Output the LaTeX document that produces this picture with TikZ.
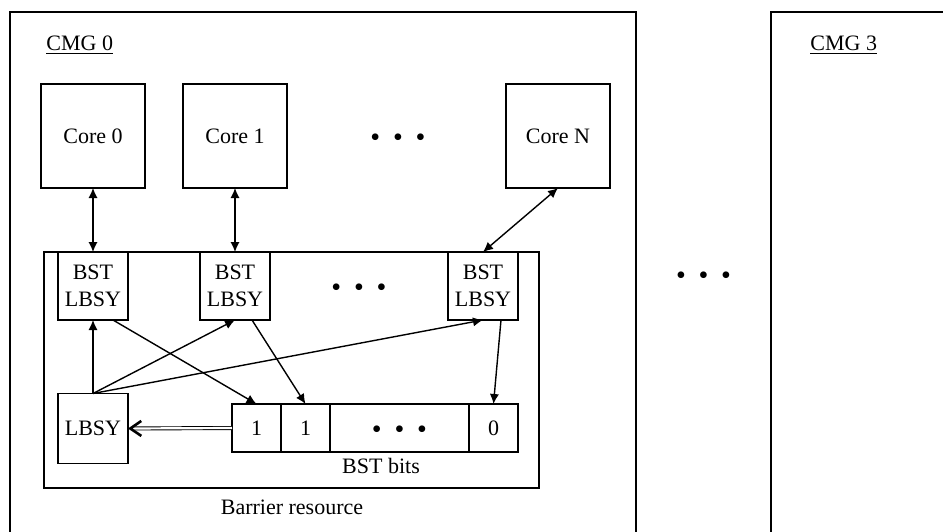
\documentclass[tikz,border=0pt]{standalone}
\usepackage{fontspec}
\setmainfont{Liberation Serif}
\usetikzlibrary{positioning, arrows.meta}
\tikzset{
  cmgframe/.style = {line width=0.8pt},
  cmgcore/.style  = {draw, line width=0.8pt, outer sep=0pt, inner sep=1pt,
                     minimum width=52pt, minimum height=52pt},
  cmgreg/.style   = {draw, line width=0.8pt, outer sep=0pt, inner sep=1pt,
                     minimum width=35pt, minimum height=34pt, align=center},
  cmgbit/.style   = {draw, line width=0.8pt, outer sep=0pt, inner sep=1pt,
                     minimum width=24.5pt, minimum height=24pt},
  cmgarrow/.style = {line width=0.7pt, -{Latex[length=5pt,width=4.6pt]}},
  cmgboth/.style  = {line width=0.7pt,
                     {Latex[length=5pt,width=4.6pt]}-{Latex[length=5pt,width=4.6pt]}},
  cmgdouble/.style = {double, line width=0.45pt, double distance=1.1pt,
                      -{Straight Barb[length=5.5pt,width=7.5pt,line width=1.3pt]}},
  cmglbl/.style   = {anchor=base, inner sep=0pt},
  cmgdotsnode/.style = {yshift=-2.3pt, inner sep=0pt,
                        font=\fontsize{14}{14}\selectfont}
}
\newcommand{\cmgdots}{\textbullet\hspace{6.4pt}\textbullet\hspace{6.4pt}\textbullet}

\begin{document}
\begin{tikzpicture}[x=0.5pt, y=-0.5pt, font=\fontsize{11}{13.5}\selectfont]
  \useasboundingbox (0,0) rectangle (943,531);
  \clip (0,0) rectangle (943,531);

  % two CMG frames, cut by the page edge
  \draw[cmgframe] (10,12) rectangle (636,600);
  \draw[cmgframe] (771,12) rectangle (1000,600);
  \node[cmglbl, anchor=base west] (cmg0lbl) at (46,50) {\underline{CMG 0}};
  \node[cmglbl, anchor=base west] (cmg3lbl) at (810,50) {\underline{CMG 3}};
  \node[cmgdotsnode] (cmgdots) at (703.5,274) {\cmgdots};

  % cores
  \node[cmgcore]                        (core0) at (93,136) {Core 0};
  \node[cmgcore, right=19pt of core0]   (core1) {Core 1};
  \node[cmgcore, right=109.5pt of core1] (coreN) {Core N};
  \node[cmgdotsnode] (coredots) at (398,136) {\cmgdots};

  % barrier resource
  \node[draw, cmgframe, outer sep=0pt, anchor=north west,
        minimum width=247.5pt, minimum height=118pt] (barrier) at (44,252) {};
  \node[cmglbl] (barrierlbl) at (292,514) {Barrier resource};

  \node[cmgreg, below=32pt of core0] (bst0) {BST\\LBSY};
  \node[cmgreg, below=32pt of core1] (bst1) {BST\\LBSY};
  \node[cmgreg, anchor=north]        (bstN) at (483,252) {BST\\LBSY};
  \node[cmgdotsnode] (bstdots) at (359,286) {\cmgdots};

  \node[cmgreg, minimum height=35pt] (lbsy) at (93,428.5) {LBSY};

  \node[cmgbit]                   (bit1) at (256.5,428) {1};
  \node[cmgbit, right=0pt of bit1] (bit2) {1};
  \node[cmgbit, right=0pt of bit2, minimum width=69.5pt] (bitdots) {};
  \node[cmgbit, right=0pt of bitdots] (bitlast) {0};
  \node[cmgdotsnode] (bitdotstxt) at (bitdots) {\cmgdots};
  \node[cmglbl] (bitslbl) at (381,473) {BST bits};

  \draw[cmgboth] (core0.south) -- (bst0.north);
  \draw[cmgboth] (core1.south) -- (bst1.north);
  \draw[cmgboth] (coreN.south) -- (bstN.north);

  \draw[cmgarrow] (lbsy.north) -- (bst0.south);
  \draw[cmgarrow] (lbsy.north) -- (bst1.south);
  \draw[cmgarrow] (lbsy.north) -- (bstN.south);

  \draw[cmgarrow] ([xshift=10pt]bst0.south) -- (bit1.north);
  \draw[cmgarrow] ([xshift=8.5pt]bst1.south) -- (bit2.north);
  \draw[cmgarrow] ([xshift=9pt]bstN.south) -- (bitlast.north);

  \draw[cmgdouble] (bit1.west) -- (lbsy.east);
\end{tikzpicture}
\end{document}
